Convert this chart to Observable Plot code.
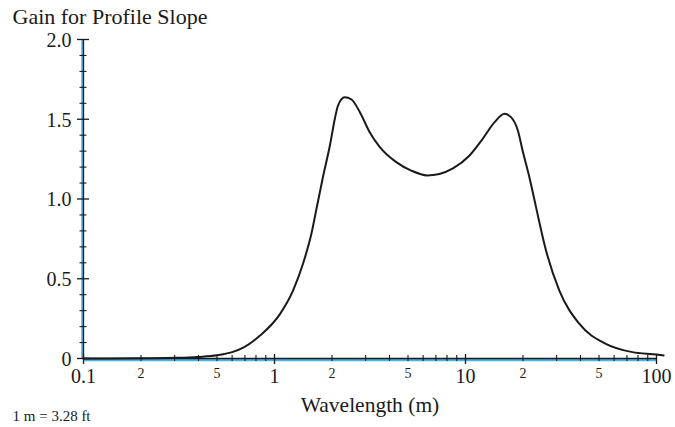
<!DOCTYPE html>
<html><head><meta charset="utf-8">
<script src="https://cdn.jsdelivr.net/npm/d3@7"></script>
<script src="https://cdn.jsdelivr.net/npm/@observablehq/plot@0.6"></script>
<style>body{margin:0;background:#fff}</style>
</head><body><div id="chart"></div>
<script>
// Data
const wavelength = [0.1, 0.2, 0.3, 0.4, 0.5, 0.6, 0.69, 0.84, 1.07, 1.25, 1.41, 1.56, 1.66, 1.80, 1.95, 2.07, 2.15, 2.33, 2.53, 2.80, 3.15, 3.56, 4.34, 5.2, 6.3, 7.3, 8.59, 10.5, 12.3, 14.2, 16.0, 17.3, 18.8, 19.9, 21.6, 23.4, 26.4, 31.0, 39.4, 54.3, 74.8, 100, 109];
const gain = [0, 0.001, 0.004, 0.01, 0.02, 0.04, 0.07, 0.144, 0.28, 0.426, 0.594, 0.782, 0.94, 1.147, 1.335, 1.503, 1.586, 1.638, 1.624, 1.544, 1.419, 1.325, 1.231, 1.178, 1.148, 1.157, 1.192, 1.273, 1.377, 1.482, 1.534, 1.513, 1.429, 1.304, 1.137, 0.949, 0.677, 0.426, 0.218, 0.092, 0.04, 0.025, 0.019];

const majorXTicks = [0.1, 1, 10, 100];
const majorXLabels = ["0.1", "1", "10", "100"];
const minorXTicks = [0.2, 0.3, 0.4, 0.5, 0.6, 0.7, 0.8, 0.9, 2, 3, 4, 5, 6, 7, 8, 9, 20, 30, 40, 50, 60, 70, 80, 90];
const minorXLabelTicks = [0.2, 0.5, 2, 5, 20, 50];
const minorXLabels = ["2", "5", "2", "5", "2", "5"];
const majorYTicks = [0, 0.5, 1, 1.5, 2];
const majorYLabels = ["0", "0.5", "1.0", "1.5", "2.0"];
const minorYTicks = [0.1, 0.2, 0.3, 0.4, 0.6, 0.7, 0.8, 0.9, 1.1, 1.2, 1.3, 1.4, 1.6, 1.7, 1.8, 1.9];

const title = "Gain for Profile Slope";
const xLabel = "Wavelength (m)";
const note = "1 m = 3.28 ft";

const data = wavelength.map((w, i) => ({w, g: gain[i]}));
const ink = "#1a1a1a";
const blue = "#4ab4e6";

const plot = Plot.plot({
  width: 675, height: 427,
  marginLeft: 83, marginRight: 19, marginTop: 39, marginBottom: 69,
  style: {fontFamily: "'Liberation Serif', 'Times New Roman', serif", background: "#fff", color: ink},
  x: {type: "log", domain: [0.1, 100], axis: null, label: null},
  y: {domain: [0, 2], axis: null, label: null},
  marks: [
    Plot.ruleX([0.1], {stroke: blue, strokeWidth: 2.5, dx: -1}),
    Plot.ruleY([0], {stroke: blue, strokeWidth: 2.5, dy: 1.5}),
    Plot.line(data, {x: "w", y: "g", curve: "monotone-x", stroke: ink, strokeWidth: 2}),
    Plot.ruleX([0.1], {stroke: ink, strokeWidth: 1.3}),
    Plot.ruleY([0], {stroke: ink, strokeWidth: 1.3}),
    // x ticks crossing the axis
    Plot.axisX(majorXTicks, {tickSize: 10, dy: -4, fill: "none", stroke: ink, strokeWidth: 1.3, label: null}),
    Plot.axisX(minorXTicks, {tickSize: 6, dy: -3, fill: "none", stroke: ink, strokeWidth: 1.1, label: null}),
    // x labels
    Plot.text(majorXTicks, {x: d => d, text: (d, i) => majorXLabels[i], frameAnchor: "bottom", dy: 24, fontSize: 20, fill: ink}),
    Plot.text(minorXLabelTicks, {x: d => d, text: (d, i) => minorXLabels[i], frameAnchor: "bottom", dy: 19, fontSize: 14, fill: ink}),
    // y ticks crossing the axis
    Plot.axisY(majorYTicks, {tickSize: 12, dx: 6, fill: "none", stroke: ink, strokeWidth: 1.3, label: null}),
    Plot.axisY(minorYTicks, {tickSize: 7, dx: 3.5, fill: "none", stroke: ink, strokeWidth: 1.1, label: null}),
    Plot.text(majorYTicks, {y: d => d, text: (d, i) => majorYLabels[i], frameAnchor: "left", dx: -12, dy: 1, textAnchor: "end", fontSize: 20, fill: ink}),
    // texts
    Plot.text([title], {frameAnchor: "top-left", dx: -71, dy: -31, textAnchor: "start", fontSize: 22, fill: ink}),
    Plot.text([xLabel], {frameAnchor: "bottom", dy: 53, fontSize: 21.5, fill: ink}),
    Plot.text([note], {frameAnchor: "bottom-left", dx: -71, dy: 62, textAnchor: "start", fontSize: 15, fill: ink})
  ]
});
document.getElementById("chart").appendChild(plot);
</script>
</body></html>
